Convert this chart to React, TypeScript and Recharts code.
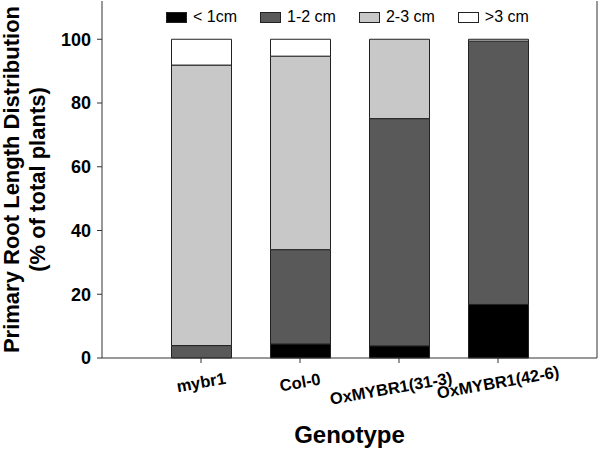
import React from 'react';
import { BarChart, Bar, XAxis, YAxis } from 'recharts';

const genotypes = ['mybr1', 'Col-0', 'OxMYBR1(31-3)', 'OxMYBR1(42-6)'];
const lessThan1 = [0, 4.4, 3.8, 16.8];
const oneToTwo = [3.9, 29.6, 71.3, 82.6];
const twoToThree = [88.0, 60.7, 24.9, 0.6];
const moreThan3 = [8.1, 5.3, 0, 0];
const yTicks = [0, 20, 40, 60, 80, 100];

const seriesNames = ['< 1cm', '1-2 cm', '2-3 cm', '>3 cm'];
const seriesKeys = ['lt1', 'b12', 'b23', 'gt3'];
const seriesColors = ['#000000', '#595959', '#c8c8c8', '#ffffff'];

const data = genotypes.map((g, i) => ({
  name: g,
  lt1: lessThan1[i],
  b12: oneToTwo[i],
  b23: twoToThree[i],
  gt3: moreThan3[i],
}));

const FONT = '"Liberation Sans", Arimo, Arial, sans-serif';

const XTick = (props: any) => {
  const { x, y, payload, index } = props;
  const shiftX = index === 2 ? -8 : 0;
  const shiftY = index === 2 ? 6 : 0;
  const cx = x + shiftX;
  const cy = y + 17 + shiftY;
  return (
    <g transform={`translate(${cx} ${cy}) rotate(-10)`}>
      <text
        x={0}
        y={6}
        textAnchor="middle"
        fontWeight="bold"
        fontSize={16.5}
        fontFamily={FONT}
        fill="#000"
      >
        {payload.value}
      </text>
    </g>
  );
};

const YTitle = (props: any) => {
  const vb = props.viewBox || {};
  const cy = (vb.y || 0) + (vb.height || 0) / 2;
  return (
    <g>
      <text
        x={11}
        y={cy}
        transform={`rotate(-90, 11, ${cy})`}
        textAnchor="middle"
        dominantBaseline="central"
        fontWeight="bold"
        fontSize={22}
        fontFamily={FONT}
        fill="#000"
      >
        Primary Root Length Distribution
      </text>
      <text
        x={37}
        y={cy}
        transform={`rotate(-90, 37, ${cy})`}
        textAnchor="middle"
        dominantBaseline="central"
        fontWeight="bold"
        fontSize={22}
        fontFamily={FONT}
        fill="#000"
      >
        (% of total plants)
      </text>
    </g>
  );
};

export default function App() {
  return (
    <div style={{ position: 'absolute', left: 0, top: 0, width: 600, height: 451, background: '#fff' }}>
      <BarChart
        width={600}
        height={451}
        data={data}
        margin={{ top: 1, right: 2, left: 0, bottom: 0 }}
        barSize={60}
      >
        <XAxis
          dataKey="name"
          height={93}
          padding={{ left: 49.5, right: 49.5 }}
          stroke="#333"
          tickSize={5}
          tick={<XTick />}
          interval={0}
          label={{
            value: 'Genotype',
            position: 'insideBottom',
            offset: 8,
            fontSize: 24,
            fontWeight: 'bold',
            fontFamily: FONT,
            fill: '#000',
          }}
        />
        <XAxis
          xAxisId="top"
          dataKey="name"
          orientation="top"
          height={0}
          tick={false}
          tickLine={false}
          stroke="#333"
          padding={{ left: 49.5, right: 49.5 }}
        />
        <YAxis
          width={102}
          domain={[0, 112]}
          ticks={yTicks}
          tickSize={5}
          tickMargin={6}
          stroke="#333"
          tick={{ fontSize: 18, fontWeight: 'bold', fontFamily: FONT, fill: '#000' }}
          label={<YTitle />}
        />
        <YAxis
          yAxisId="right"
          orientation="right"
          width={1}
          domain={[0, 112]}
          tick={false}
          tickLine={false}
          stroke="#333"
        />
        {seriesKeys.map((k, i) => (
          <Bar
            key={k}
            dataKey={k}
            name={seriesNames[i]}
            stackId="a"
            fill={seriesColors[i]}
            stroke="#222"
            strokeWidth={1}
            isAnimationActive={false}
          />
        ))}
      </BarChart>
      <div
        style={{
          position: 'absolute',
          left: 166,
          top: 7,
          display: 'flex',
          gap: 23,
          fontFamily: FONT,
          fontSize: 16,
          lineHeight: '20px',
          color: '#000',
        }}
      >
        {seriesNames.map((n, i) => (
          <div key={n} style={{ display: 'flex', alignItems: 'center', gap: 6 }}>
            <div
              style={{
                width: 19,
                height: 9,
                background: seriesColors[i],
                border: '1px solid #222',
              }}
            />
            <span>{n}</span>
          </div>
        ))}
      </div>
    </div>
  );
}
